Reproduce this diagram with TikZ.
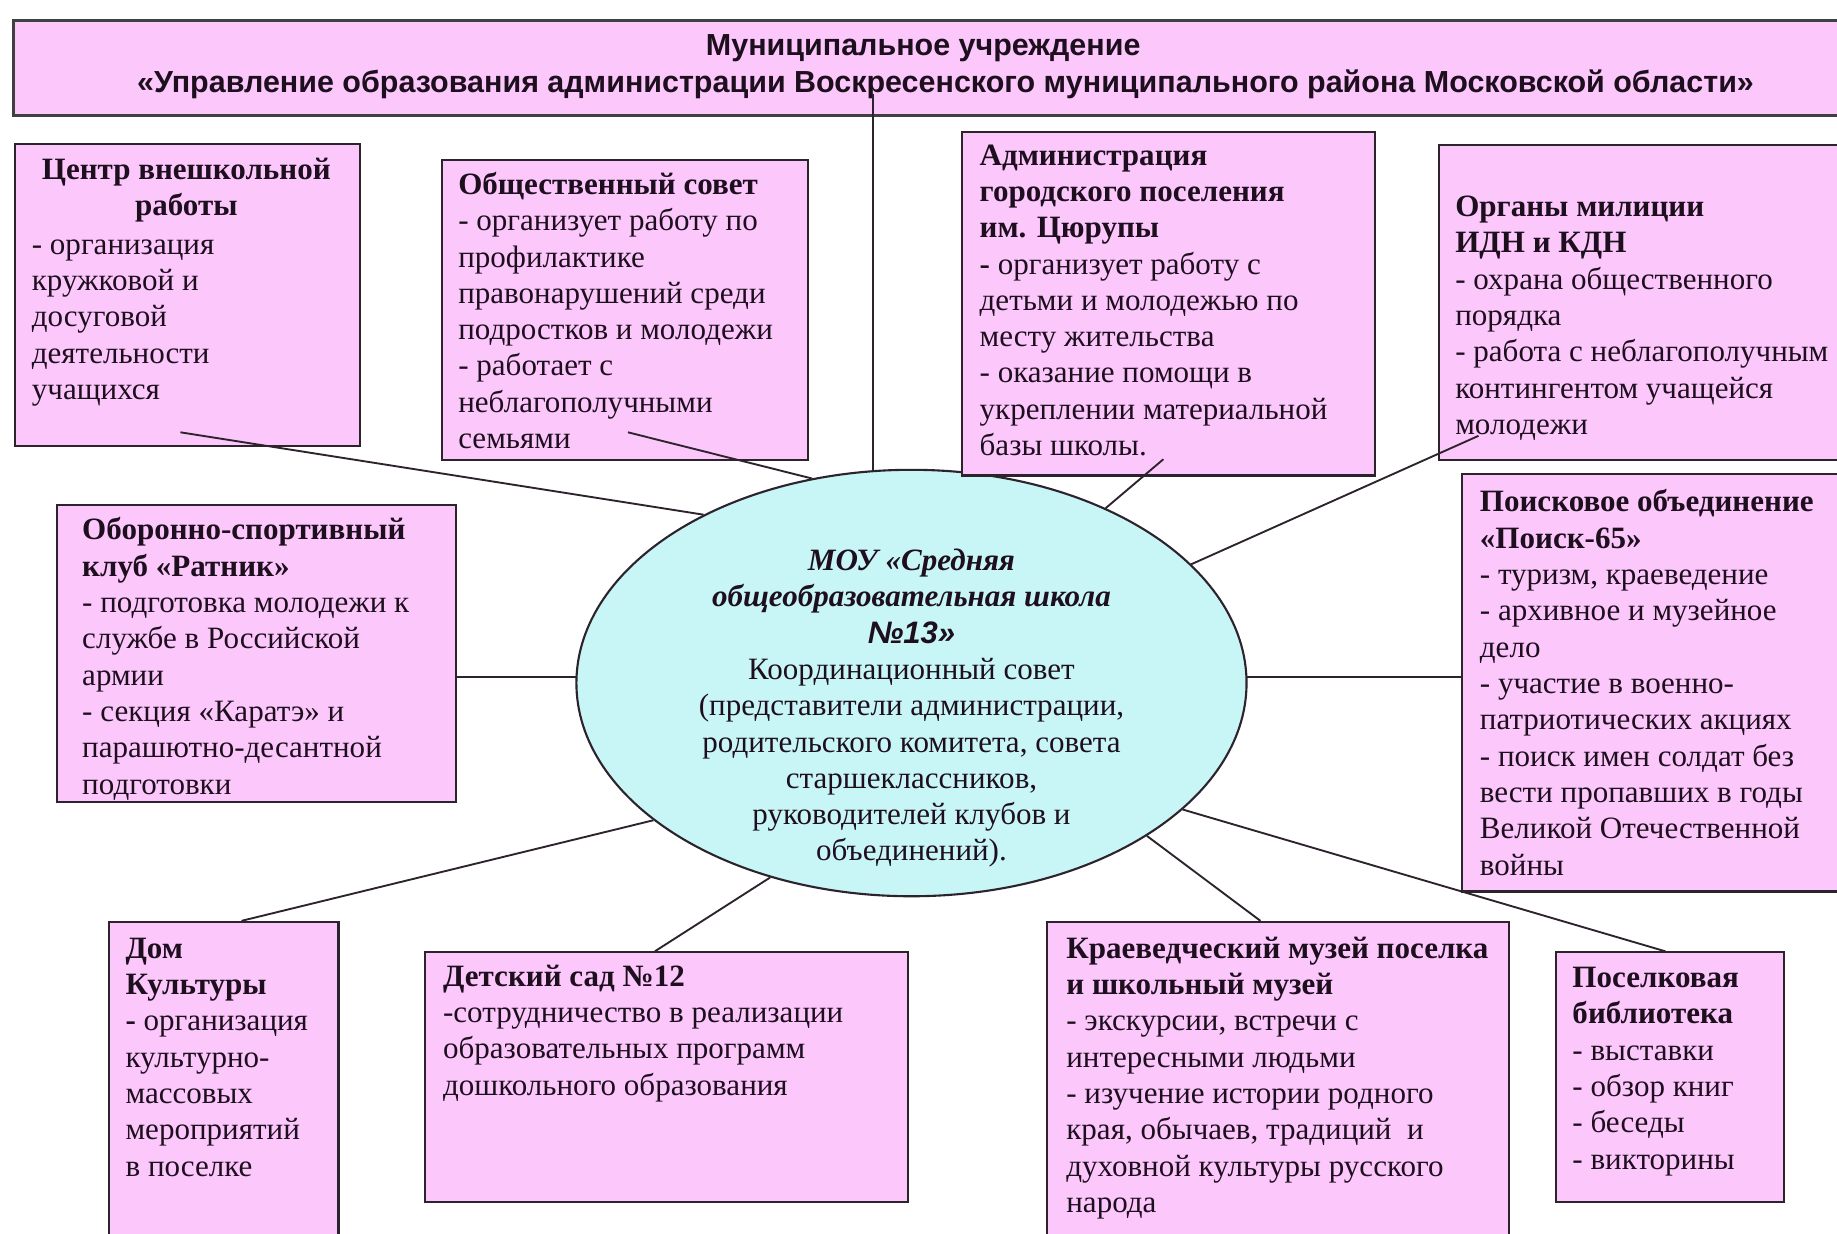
\documentclass[tikz,border=0pt]{standalone}
\usepackage{fontspec}
\setmainfont{Liberation Serif}
\newfontfamily\titlefont{Liberation Sans}
\usetikzlibrary{shapes.geometric,calc}
\definecolor{pinkfill}{RGB}{252,200,252}
\definecolor{cyanfill}{RGB}{200,246,246}
\definecolor{boxline}{RGB}{45,35,45}
\definecolor{txtcol}{RGB}{30,15,30}
\newcommand\bodyfont{\fontsize{26.5}{31}\selectfont}
\tikzset{
  pbox/.style={draw=boxline, fill=pinkfill, line width=1.8pt, inner sep=0pt, anchor=north west},
  txt/.style={inner sep=0pt, anchor=north west, align=left, font=\bodyfont, text=txtcol},
  ctxt/.style={inner sep=0pt, anchor=north, align=center, font=\bodyfont, text=txtcol},
  conn/.style={draw=boxline, line width=1.6pt},
}
\begin{document}
\begin{tikzpicture}[x=1pt,y=-1pt]
\fill[white] (0,0) rectangle (1568,1053);
\path[use as bounding box] (0,0) rectangle (1568,1053);

% title box
\node[pbox, line width=3pt, draw=black!75, minimum width=1570pt, minimum height=81pt] (top) at (10,16) {};
\node[inner sep=0pt, align=center, text=txtcol, font=\titlefont\bfseries\fontsize{26}{32}\selectfont] (ttl) at (807,57)
  {Муниципальное учреждение\hspace*{38pt}\\«Управление образования администрации Воскресенского муниципального района Московской области»};

% ellipse
\node[ellipse, draw=boxline, fill=cyanfill, line width=1.8pt, minimum width=572pt, minimum height=364pt, inner sep=0pt] (e) at (778,583) {};

% boxes
\node[pbox, minimum width=294pt, minimum height=258pt] (b1) at (12,122) {};
\node[pbox, minimum width=313pt, minimum height=256pt] (b2) at (376,136) {};
\node[pbox, minimum width=353pt, minimum height=293pt] (b3) at (820,112) {};
\node[pbox, minimum width=350pt, minimum height=269pt] (b4) at (1227,123) {};
\node[pbox, minimum width=340pt, minimum height=254pt] (b5) at (48,430) {};
\node[pbox, minimum width=330pt, minimum height=356pt] (b6) at (1247,404) {};
\node[pbox, minimum width=196pt, minimum height=280pt] (b7) at (92,786) {};
\node[pbox, minimum width=412pt, minimum height=213pt] (b8) at (362,812) {};
\node[pbox, minimum width=394pt, minimum height=280pt] (b9) at (893,786) {};
\node[pbox, minimum width=195pt, minimum height=213pt] (b10) at (1327,812) {};

% connectors
\coordinate (vt) at (745,80);
\draw[conn] (vt) -- (vt |- e.100.3);
\coordinate (s1) at (154,369);
\draw[conn] (s1) -- (e.141.9);
\coordinate (s2) at (536,369);
\draw[conn] (s2) -- (e.116.3);
\coordinate (s3) at (993,392);
\draw[conn] (s3) -- (e.42.9);
\coordinate (s4) at (1262,372);
\draw[conn] (s4) -- (e.23.7);
\draw[conn] (e.1) -- (e.1 -| b6.west);
\draw[conn] (e.179) -- (e.179 -| b5.east);
\draw[conn] ($(b7.north west)!0.577!(b7.north east)$) -- (e.208.3);
\draw[conn] ($(b8.north west)!0.476!(b8.north east)$) -- (e.234.6);
\draw[conn] ($(b9.north west)!0.462!(b9.north east)$) -- (e.327.9);
\draw[conn] ($(b10.north west)!0.48!(b10.north east)$) -- (e.335.1);

% texts
\node[ctxt] (h1) at (159,131) {{\strut\bfseries Центр внешкольной}\\{\bfseries работы}};
\node[txt] (t1) at (27,195) {\strut - организация\\кружковой и\\досуговой\\деятельности\\учащихся};

\node[txt] (t2) at (391,144) {{\strut\bfseries Общественный совет}\\- организует работу по\\профилактике\\правонарушений среди\\подростков и молодежи\\- работает с\\неблагополучными\\семьями};

\node[txt] (t3) at (836,119) {{\strut\bfseries Администрация}\\{\bfseries городского поселения}\\{\bfseries им. Цюрупы}\\{\bfseries -} организует работу с\\детьми и молодежью по\\месту жительства\\- оказание помощи в\\укреплении материальной\\базы школы.};

\node[txt] (t4) at (1242,163) {{\strut\bfseries Органы милиции}\\{\bfseries ИДН и КДН}\\- охрана общественного\\порядка\\- работа с неблагополучным\\контингентом учащейся\\молодежи};

\node[txt] (t5) at (70,439) {{\strut\bfseries Оборонно-спортивный}\\{\bfseries клуб «Ратник»}\\- подготовка молодежи к\\службе в Российской\\армии\\- секция «Каратэ» и\\парашютно-десантной\\подготовки};

\node[txt] (t6) at (1263,415) {{\strut\bfseries Поисковое объединение}\\{\bfseries «Поиск-65»}\\- туризм, краеведение\\- архивное и музейное\\дело\\- участие в военно-\\патриотических акциях\\- поиск имен солдат без\\вести пропавших в годы\\Великой Отечественной\\войны};

\node[txt] (t7) at (107,796) {{\strut\bfseries Дом}\\{\bfseries Культуры}\\{\bfseries -} организация\\культурно-\\массовых\\мероприятий\\в поселке};

\node[txt] (t8) at (378,820) {{\strut\bfseries Детский сад №12}\\-сотрудничество в реализации\\образовательных программ\\дошкольного образования};

\node[txt] (t9) at (910,796) {{\strut\bfseries Краеведческий музей поселка}\\{\bfseries и школьный музей}\\- экскурсии, встречи с\\интересными людьми\\- изучение истории родного\\края, обычаев, традиций~ и\\духовной культуры русского\\народа};

\node[txt] (t10) at (1342,821) {{\strut\bfseries Поселковая}\\{\bfseries библиотека}\\- выставки\\- обзор книг\\- беседы\\- викторины};

\node[ctxt] (et) at (778,465) {{\strut\bfseries\itshape МОУ «Средняя}\\{\bfseries\itshape общеобразовательная школа}\\{\titlefont\bfseries\itshape №13»}\\Координационный совет\\(представители администрации,\\родительского комитета, совета\\старшеклассников,\\руководителей клубов и\\объединений).};
\end{tikzpicture}
\end{document}
